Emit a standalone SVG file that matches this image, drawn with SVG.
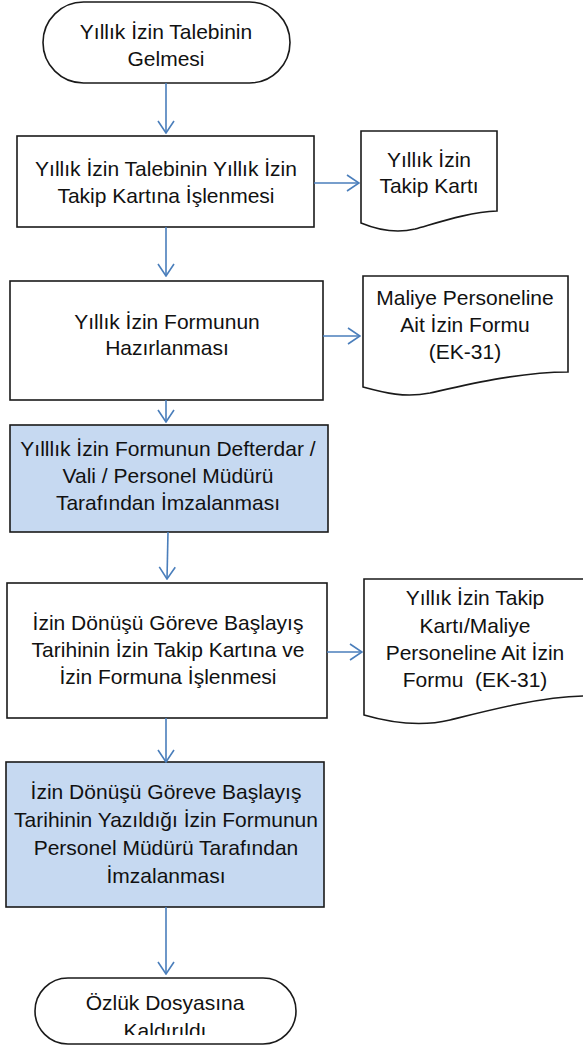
<svg xmlns="http://www.w3.org/2000/svg" width="583" height="1048" viewBox="0 0 583 1048">
<style>
.n{fill:#fff;stroke:#1a1a1a;stroke-width:1.6}
.b{fill:#c6d9f1;stroke:#1a1a1a;stroke-width:1.6}
.t{font-family:"Liberation Sans",Arial,sans-serif;font-size:21px;fill:#111;text-anchor:middle}
.c{fill:none;stroke:#4a7ebb;stroke-width:1.6}
</style>
<defs>
<marker id="ah" viewBox="0 0 14 18" refX="13" refY="9" markerWidth="14" markerHeight="18" markerUnits="userSpaceOnUse" orient="auto">
<path d="M1,1 L13,9 L1,17" fill="none" stroke="#4a7ebb" stroke-width="1.6"/>
</marker>
<clipPath id="clipEnd"><rect x="0" y="970" width="583" height="65"/></clipPath>
</defs>
<g id="start">
<rect class="n" x="43" y="2" width="247" height="81" rx="40.5" ry="40.5"/>
<text class="t" x="166" y="39">Yıllık İzin Talebinin</text>
<text class="t" x="166" y="66">Gelmesi</text>
</g>
<g id="box1">
<rect class="n" x="17" y="136" width="297" height="91"/>
<text class="t" x="166" y="176">Yıllık İzin Talebinin Yıllık İzin</text>
<text class="t" x="166" y="203">Takip Kartına İşlenmesi</text>
</g>
<g id="doc1">
<path class="n" d="M361,131 H497 V211 C470,212 440,222 415,229 C395,234 378,230 361,223 Z"/>
<text class="t" x="429" y="167">Yıllık İzin</text>
<text class="t" x="429" y="193">Takip Kartı</text>
</g>
<g id="box2">
<rect class="n" x="10" y="281" width="313" height="119"/>
<text class="t" x="167" y="329">Yıllık İzin Formunun</text>
<text class="t" x="167" y="355">Hazırlanması</text>
</g>
<g id="doc2">
<path class="n" d="M363,276 H568 V372 C520,372 470,384 430,393 C405,398 385,393 363,387 Z"/>
<text class="t" x="465" y="305">Maliye Personeline</text>
<text class="t" x="465" y="332">Ait İzin Formu</text>
<text class="t" x="465" y="359">(EK-31)</text>
</g>
<g id="box3">
<rect class="b" x="10" y="425" width="318" height="107"/>
<text class="t" x="168" y="456">Yılllık İzin Formunun Defterdar /</text>
<text class="t" x="168" y="483">Vali / Personel Müdürü</text>
<text class="t" x="168" y="510">Tarafından İmzalanması</text>
</g>
<g id="box4">
<rect class="n" x="7" y="583" width="320" height="135"/>
<text class="t" x="168" y="630">İzin Dönüşü Göreve Başlayış</text>
<text class="t" x="168" y="657">Tarihinin İzin Takip Kartına ve</text>
<text class="t" x="168" y="684">İzin Formuna İşlenmesi</text>
</g>
<g id="doc3">
<path class="n" d="M364,579 H584 V696 C540,697 490,710 450,720 C425,726 395,724 364,715 Z"/>
<text class="t" x="475" y="605">Yıllık İzin Takip</text>
<text class="t" x="475" y="633">Kartı/Maliye</text>
<text class="t" x="475" y="660">Personeline Ait İzin</text>
<text class="t" x="475" y="687" xml:space="preserve">Formu  (EK-31)</text>
</g>
<g id="box5">
<rect class="b" x="6" y="762" width="318" height="145"/>
<text class="t" x="166" y="799">İzin Dönüşü Göreve Başlayış</text>
<text class="t" x="166" y="827">Tarihinin Yazıldığı İzin Formunun</text>
<text class="t" x="166" y="855">Personel Müdürü Tarafından</text>
<text class="t" x="166" y="883">İmzalanması</text>
</g>
<g id="end">
<rect class="n" x="35" y="978" width="261" height="66" rx="33" ry="33"/>
<text class="t" x="165" y="1010">Özlük Dosyasına</text>
<text class="t" x="165" y="1038" clip-path="url(#clipEnd)">Kaldırıldı</text>
</g>
<g id="connectors">
<line class="c" x1="166" y1="83" x2="166" y2="133" marker-end="url(#ah)"/>
<line class="c" x1="314" y1="183" x2="359" y2="183" marker-end="url(#ah)"/>
<line class="c" x1="166" y1="227" x2="166" y2="276" marker-end="url(#ah)"/>
<line class="c" x1="323" y1="336" x2="360" y2="336" marker-end="url(#ah)"/>
<line class="c" x1="166" y1="400" x2="166" y2="422" marker-end="url(#ah)"/>
<line class="c" x1="168" y1="532" x2="167" y2="579" marker-end="url(#ah)"/>
<line class="c" x1="327" y1="652" x2="362" y2="652" marker-end="url(#ah)"/>
<line class="c" x1="166" y1="718" x2="166" y2="762" marker-end="url(#ah)"/>
<line class="c" x1="166" y1="907" x2="166" y2="974" marker-end="url(#ah)"/>
</g>
</svg>
